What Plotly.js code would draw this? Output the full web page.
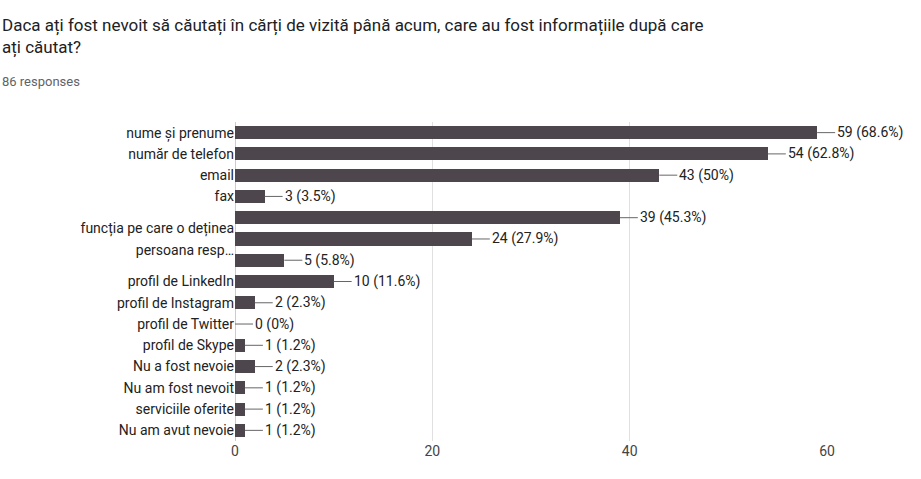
<!DOCTYPE html>
<html>
<head>
<meta charset="utf-8">
<script src="https://cdn.plot.ly/plotly-3.0.1.min.js"></script>
<style>body{margin:0;background:#fff}#myDiv{width:921px;height:479px}</style>
</head>
<body>
<div id="myDiv"></div>
<script>
var counts = [59, 54, 43, 3, 39, 24, 5, 10, 2, 0, 1, 2, 1, 1, 1];
var percents = ["68.6%", "62.8%", "50%", "3.5%", "45.3%", "27.9%", "5.8%", "11.6%", "2.3%", "0%", "1.2%", "2.3%", "1.2%", "1.2%", "1.2%"];
var tickPos = [0, 1, 2, 3, 4.5, 5.5, 7, 8, 9, 10, 11, 12, 13, 14];
var tickLabels = ["nume și prenume", "număr de telefon", "email", "fax",
  "funcția pe care o deținea", "persoana resp…", "profil de LinkedIn",
  "profil de Instagram", "profil de Twitter", "profil de Skype",
  "Nu a fost nevoie", "Nu am fost nevoit", "serviciile oferite", "Nu am avut nevoie"];

var pos = counts.map(function (c, i) { return i; });

var trace = {
  type: "bar",
  orientation: "h",
  x: counts,
  y: pos,
  width: 0.62,
  marker: {color: "#4d474d"},
  hoverinfo: "x"
};

var annotations = counts.map(function (c, i) {
  return {
    x: c, y: i, xref: "x", yref: "y",
    text: c + " (" + percents[i] + ")",
    showarrow: true, arrowhead: 0, arrowwidth: 1, arrowcolor: "#666",
    ax: 18, ay: 0, xanchor: "left",
    font: {size: 14, color: "#222"}
  };
});

annotations.push({
  xref: "paper", yref: "paper", x: -235 / 592, y: 1 + 109 / 319,
  xanchor: "left", yanchor: "top", align: "left", showarrow: false,
  text: "Daca ați fost nevoit să căutați în cărți de vizită până acum, care au fost informațiile după care<br>ați căutat?",
  font: {size: 17, color: "#202124"}
});
annotations.push({
  xref: "paper", yref: "paper", x: -235 / 592, y: 1 + 50 / 319,
  xanchor: "left", yanchor: "top", showarrow: false,
  text: "86 responses", font: {size: 13, color: "#5f6368"}
});

var layout = {
  width: 921, height: 479,
  margin: {l: 235, r: 94, t: 122, b: 38},
  font: {family: "Roboto, Arial, sans-serif", size: 14, color: "#222"},
  showlegend: false,
  bargap: 0,
  xaxis: {range: [0, 60], tickvals: [0, 20, 40, 60], gridcolor: "#e0e0e0",
    zeroline: true, zerolinecolor: "#ccc", ticks: "", tickfont: {size: 14, color: "#444"}},
  yaxis: {range: [14.5, -0.5], tickvals: tickPos, ticktext: tickLabels, ticks: "",
    showgrid: false, zeroline: false, automargin: false, tickfont: {size: 14, color: "#222"}},
  annotations: annotations,
  plot_bgcolor: "#fff", paper_bgcolor: "#fff"
};

Plotly.newPlot("myDiv", [trace], layout, {displayModeBar: false});
</script>
</body>
</html>
